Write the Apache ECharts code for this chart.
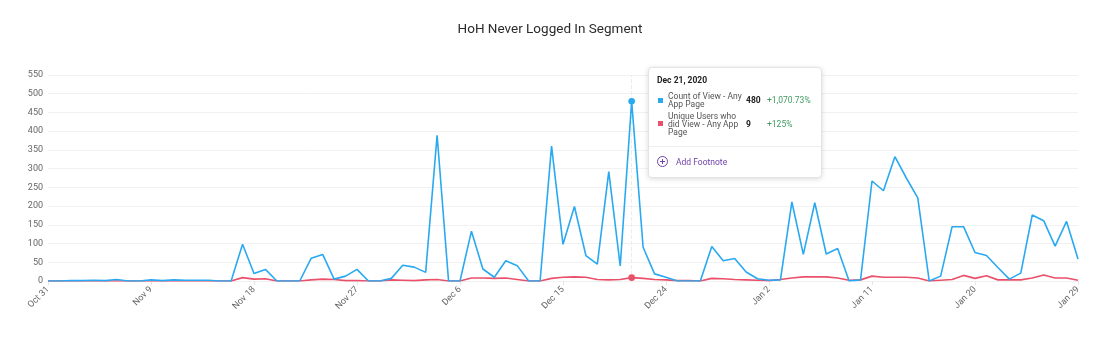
<!DOCTYPE html>
<html>
<head>
<meta charset="utf-8">
<script src="https://cdn.jsdelivr.net/npm/echarts@6/dist/echarts.min.js"></script>
<style>
html,body{margin:0;padding:0;background:#fff;}
#chart{width:1100px;height:355px;}
</style>
</head>
<body>
<div id="chart"></div>
<script>
const titleText = 'HoH Never Logged In Segment';
const categories = [
 'Oct 31',
 'Nov 1','Nov 2','Nov 3','Nov 4','Nov 5','Nov 6','Nov 7','Nov 8','Nov 9','Nov 10',
 'Nov 11','Nov 12','Nov 13','Nov 14','Nov 15','Nov 16','Nov 17','Nov 18','Nov 19','Nov 20',
 'Nov 21','Nov 22','Nov 23','Nov 24','Nov 25','Nov 26','Nov 27','Nov 28','Nov 29','Nov 30',
 'Dec 1','Dec 2','Dec 3','Dec 4','Dec 5','Dec 6','Dec 7','Dec 8','Dec 9','Dec 10',
 'Dec 11','Dec 12','Dec 13','Dec 14','Dec 15','Dec 16','Dec 17','Dec 18','Dec 19','Dec 20',
 'Dec 21','Dec 22','Dec 23','Dec 24','Dec 25','Dec 26','Dec 27','Dec 28','Dec 29','Dec 30','Dec 31',
 'Jan 1','Jan 2','Jan 3','Jan 4','Jan 5','Jan 6','Jan 7','Jan 8','Jan 9','Jan 10',
 'Jan 11','Jan 12','Jan 13','Jan 14','Jan 15','Jan 16','Jan 17','Jan 18','Jan 19','Jan 20',
 'Jan 21','Jan 22','Jan 23','Jan 24','Jan 25','Jan 26','Jan 27','Jan 28','Jan 29'
];
const seriesNames = ['Count of View - Any App Page', 'Unique Users who did View - Any App Page'];
const countOfView = [
 0,0,1,1,2,1,4,0,0,3,
 1,3,2,2,2,0,0,98,20,31,
 0,0,0,61,71,5,13,31,0,0,
 7,42,37,23,389,0,0,133,32,10,
 54,41,0,0,360,98,199,68,45,292,
 40,480,90,19,10,0,0,0,92,54,
 60,24,6,2,3,211,71,209,72,87,
 0,3,267,241,332,275,222,0,13,145,
 145,76,68,36,5,21,176,161,93,159,
 59
];
const uniqueUsers = [
 0,0,0,0,0,0,0,0,0,0,
 0,0,0,0,0,0,0,9,5,6,
 0,0,0,3,5,4,1,1,0,0,
 3,2,1,3,4,0,0,8,8,7,
 8,4,0,0,7,10,11,10,4,3,
 4,9,7,4,3,1,1,0,7,6,
 4,3,2,1,4,8,11,11,11,8,
 2,3,13,10,10,10,8,0,2,4,
 15,7,14,3,3,3,8,16,8,8,
 2
];
const yTicks = {min: 0, max: 550, interval: 50};
const tipIndex = 51;
const tipDate = 'Dec 21, 2020';
const tipChanges = ['+1,070.73%', '+125%'];
const colors = ['#29a9f1', '#ea5069'];

const chart = echarts.init(document.getElementById('chart'), null, {renderer: 'canvas'});

function markData(arr) {
  return arr.map((v, i) => i === tipIndex ? {value: v, symbol: 'circle', symbolSize: 6} : v);
}

function tipHtml(params) {
  const rows = params.map((p, k) => `
    <div style="display:flex;align-items:center;white-space:normal;margin-bottom:${k === 0 ? 3 : 0}px;">
      <span style="display:inline-block;width:5px;height:5px;background:${colors[k]};margin:0 5px 0 1px;flex:none;"></span>
      <span style="display:block;width:76px;flex:none;color:#555;white-space:normal;word-wrap:break-word;">${seriesNames[k]}</span>
      <span style="display:block;width:23px;flex:none;font-weight:700;color:#222;padding-left:2px;box-sizing:border-box;">${p.value}</span>
      <span style="color:#3f9b61;white-space:nowrap;">${tipChanges[k]}</span>
    </div>`).join('');
  return `<div style="width:172px;box-sizing:border-box;font-family:Roboto,'Open Sans',sans-serif;font-size:8.5px;line-height:8.2px;white-space:normal;">
    <div style="padding:8px 8px 0 8px;">
      <div style="font-weight:700;color:#222;margin-bottom:8px;">${tipDate}</div>
      ${rows}
    </div>
    <div style="border-top:1px solid #eeeeee;margin-top:10px;padding:9px 8px 10px 8px;display:flex;align-items:center;color:#6f42a8;">
      <span style="display:inline-block;width:9px;height:9px;border:1.4px solid #6f42a8;border-radius:50%;position:relative;margin-right:8px;flex:none;">
        <span style="position:absolute;left:2px;top:3.8px;width:5px;height:1.4px;background:#6f42a8;"></span>
        <span style="position:absolute;left:3.8px;top:2px;width:1.4px;height:5px;background:#6f42a8;"></span>
      </span>
      <span>Add Footnote</span>
    </div>
  </div>`;
}

chart.setOption({
  animation: false,
  backgroundColor: '#fff',
  title: {
    text: titleText,
    left: 'center',
    top: 18,
    textStyle: {fontFamily: 'Roboto', fontSize: 13.5, fontWeight: 'normal', color: '#2b2b2b'}
  },
  grid: {left: 48, right: 22, top: 75, bottom: 74, containLabel: false},
  tooltip: {
    trigger: 'axis',
    triggerOn: 'none',
    alwaysShowContent: true,
    transitionDuration: 0,
    position: [648, 67],
    padding: 0,
    backgroundColor: '#fff',
    borderColor: '#e3e3e3',
    borderWidth: 1,
    extraCssText: 'border-radius:4px;box-shadow:0 1px 5px rgba(0,0,0,0.15);white-space:normal;',
    axisPointer: {type: 'line', z: 1, lineStyle: {color: '#ececec', width: 1}},
    formatter: tipHtml
  },
  xAxis: {
    type: 'category',
    data: categories,
    boundaryGap: false,
    axisLine: {show: true, lineStyle: {color: '#f0f0f0'}},
    axisTick: {show: true, interval: 8, length: 4, lineStyle: {color: '#e6e6e6'}},
    axisLabel: {interval: 8, rotate: 45, fontSize: 9, color: '#666', fontFamily: 'Roboto', margin: 7},
    splitLine: {show: false}
  },
  yAxis: {
    type: 'value',
    min: yTicks.min,
    max: yTicks.max,
    interval: yTicks.interval,
    axisLine: {show: false},
    axisTick: {show: false},
    axisLabel: {fontSize: 9, color: '#666', fontFamily: 'Roboto', margin: 5},
    splitLine: {lineStyle: {color: '#f1f1f1', width: 1}}
  },
  series: [
    {
      name: seriesNames[0],
      type: 'line',
      data: markData(countOfView),
      symbol: 'none',
      showSymbol: true,
      showAllSymbol: true,
      lineStyle: {color: colors[0], width: 1.6},
      itemStyle: {color: colors[0], borderWidth: 0},
      emphasis: {disabled: true},
      z: 3
    },
    {
      name: seriesNames[1],
      type: 'line',
      data: markData(uniqueUsers),
      symbol: 'none',
      showSymbol: true,
      showAllSymbol: true,
      lineStyle: {color: colors[1], width: 1.6},
      itemStyle: {color: colors[1], borderWidth: 0},
      emphasis: {disabled: true},
      z: 2
    }
  ]
});

chart.dispatchAction({type: 'showTip', seriesIndex: 0, dataIndex: tipIndex});
</script>
</body>
</html>
